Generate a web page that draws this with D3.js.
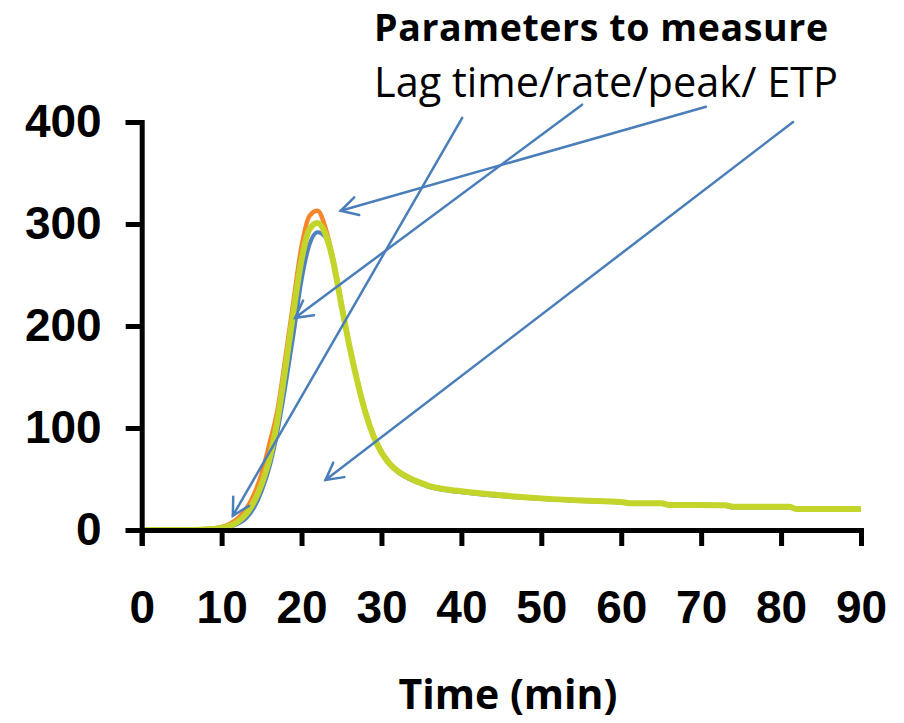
<!DOCTYPE html>
<html>
<head>
<meta charset="utf-8">
<script src="https://cdn.jsdelivr.net/npm/d3@7"></script>
<style>
  body { margin: 0; background: #fff; }
  svg { display: block; }
</style>
</head>
<body>
<svg id="chart" width="904" height="723"></svg>
<script>
// sample times (min)
const times = [0, 5, 8, 10, 11, 12, 13, 14, 15, 16, 17, 18, 19, 20, 21, 22, 23, 24, 25, 26, 27, 28, 29, 30,
  31, 32, 33, 34, 35, 36, 38, 40, 45, 50, 55, 60, 61, 65, 66, 73, 74, 81, 82, 90];

// three thrombin generation curves
const blueVals = [0, 0, 0, 1, 3, 6, 11, 21, 38, 62, 97, 142, 192, 245, 280, 292, 287, 260, 220, 180, 146, 116, 93, 77,
  65, 57, 52, 48, 45, 42, 39, 37, 33, 30.5, 28.5, 27, 25.8, 25.8, 24, 23.5, 22, 22, 20.3, 20.2];
const orangeVals = [0, 0, 1, 3, 6, 11, 20, 34, 55, 85, 118, 170, 225, 278, 308, 313, 296, 264, 222, 181, 146, 116, 93, 77,
  66, 58, 53, 49, 46, 43, 40, 38, 34, 31, 29, 27.5, 26.3, 26.2, 24.5, 24.3, 22.8, 22.7, 20.6, 20.5];
const greenVals = [0, 0, 0.5, 2, 4, 8, 15, 27, 45, 70, 108, 160, 215, 265, 295, 301, 290, 262, 220, 180, 145, 115, 92, 76,
  65, 58, 53, 49, 46, 43, 40, 38, 34, 31, 29, 27.5, 26.3, 26.2, 24.5, 24.3, 22.8, 22.7, 20.6, 20.5];

const xTicks = [0, 10, 20, 30, 40, 50, 60, 70, 80, 90];
const yTicks = [0, 100, 200, 300, 400];

// annotation arrows: tail (near text) -> head (on curve), in data units
const arrowTails = [[40.1, 404], [55.1, 417], [70.6, 415], [81.5, 400]];
const arrowHeads = [[11.4, 14], [19.2, 208], [24.9, 313], [23.0, 49]];

const svg = d3.select("#chart");

const x = d3.scaleLinear().domain([0, 90]).range([141.7, 861]);
const y = d3.scaleLinear().domain([0, 400]).range([530, 122]);

// curves
const line = d3.line()
  .x((d, i) => x(times[i]))
  .y(d => y(d))
  .curve(d3.curveMonotoneX);

const series = [
  { vals: orangeVals, color: "#f7862a", w: 4.5 },
  { vals: blueVals, color: "#4f81bd", w: 4 },
  { vals: greenVals, color: "#c3d52a", w: 6 }
];

svg.append("g")
  .selectAll("path")
  .data(series)
  .join("path")
  .attr("fill", "none")
  .attr("stroke", d => d.color)
  .attr("stroke-width", d => d.w)
  .attr("stroke-linejoin", "round")
  .attr("d", d => line(d.vals));

// axes
const yAxis = svg.append("g")
  .attr("transform", `translate(${x(0)},0)`)
  .call(d3.axisLeft(y).tickValues(yTicks).tickSize(16).tickPadding(24));
yAxis.selectAll("text")
  .style("font-family", "'Liberation Sans', Arial, sans-serif")
  .style("font-weight", "bold")
  .style("font-size", "46px")
  .attr("fill", "#000");

const xAxis = svg.append("g")
  .attr("transform", `translate(0,${y(0)})`)
  .call(d3.axisBottom(x).tickValues(xTicks).tickSize(16).tickPadding(44));
xAxis.selectAll("text")
  .style("font-family", "'Liberation Sans', Arial, sans-serif")
  .style("font-weight", "bold")
  .style("font-size", "46px")
  .attr("fill", "#000");

svg.selectAll(".domain, .tick line")
  .attr("stroke", "#000")
  .attr("stroke-width", 5);

// axis title
svg.append("text")
  .attr("x", 508)
  .attr("y", 709)
  .attr("text-anchor", "middle")
  .style("font-family", "'Open Sans', sans-serif")
  .style("font-weight", "bold")
  .style("font-size", "41px")
  .text("Time (min)");

// annotation text
svg.append("text")
  .attr("x", 374)
  .attr("y", 41)
  .style("font-family", "'Open Sans', sans-serif")
  .style("font-weight", "bold")
  .style("font-size", "37.5px")
  .style("letter-spacing", "0.6px")
  .text("Parameters to measure");

svg.append("text")
  .attr("x", 374)
  .attr("y", 97)
  .style("font-family", "'Open Sans', sans-serif")
  .style("font-size", "41.5px")
  .text("Lag time/rate/peak/ ETP");

// arrows
const arrowColor = "#4a7ebb";
const ag = svg.append("g")
  .attr("stroke", arrowColor)
  .attr("stroke-width", 2.5)
  .attr("fill", "none")
  .attr("stroke-linecap", "round");

arrowHeads.forEach((h, i) => {
  const t = arrowTails[i];
  const x1 = x(t[0]), y1 = y(t[1]);
  const x2 = x(h[0]), y2 = y(h[1]);
  ag.append("line")
    .attr("x1", x1).attr("y1", y1)
    .attr("x2", x2).attr("y2", y2);
  const ang = Math.atan2(y1 - y2, x1 - x2);
  const len = 19, spread = 0.5;
  const w1 = [x2 + len * Math.cos(ang - spread), y2 + len * Math.sin(ang - spread)];
  const w2 = [x2 + len * Math.cos(ang + spread), y2 + len * Math.sin(ang + spread)];
  ag.append("path")
    .attr("d", `M${w1[0]},${w1[1]}L${x2},${y2}L${w2[0]},${w2[1]}`);
});
</script>
</body>
</html>
